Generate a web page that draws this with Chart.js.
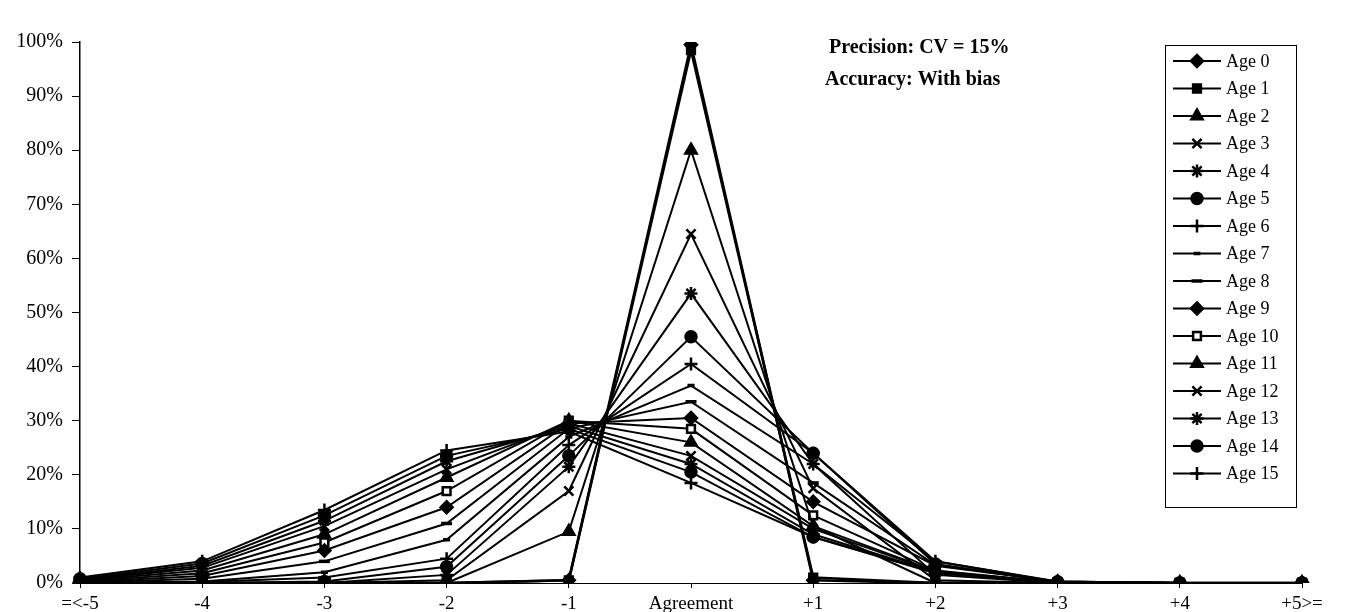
<!DOCTYPE html>
<html>
<head>
<meta charset="utf-8">
<script src="https://cdn.jsdelivr.net/npm/chart.js@4/dist/chart.umd.min.js"></script>
<style>
  html, body { margin: 0; padding: 0; background: #fff; }
  #wrap { position: relative; width: 1369px; height: 612px; }
</style>
</head>
<body>
<div id="wrap"><canvas id="c" width="1369" height="612"></canvas></div>
<script>
// ---- Data (percent of readings) ----
const categories = ['=<-5', '-4', '-3', '-2', '-1', 'Agreement', '+1', '+2', '+3', '+4', '+5>='];
const seriesNames = ['Age 0','Age 1','Age 2','Age 3','Age 4','Age 5','Age 6','Age 7',
                     'Age 8','Age 9','Age 10','Age 11','Age 12','Age 13','Age 14','Age 15'];
const age0  = [0,   0,   0,    0,    0.5,  99.5, 0.5,  0,   0,   0, 0];
const age1  = [0,   0,   0,    0,    0.5,  98.5, 1.0,  0,   0,   0, 0];
const age2  = [0,   0,   0,    0,    9.5,  80.0, 10.5, 0,   0,   0, 0];
const age3  = [0,   0,   0,    0.5,  17.0, 64.5, 17.5, 0.5, 0,   0, 0];
const age4  = [0,   0,   0,    1.5,  21.5, 53.5, 22.0, 1.5, 0,   0, 0];
const age5  = [0,   0,   0.3,  3.0,  23.5, 45.5, 24.0, 3.5, 0.2, 0, 0];
const age6  = [0,   0.2, 1.0,  4.5,  25.5, 40.5, 24.0, 4.0, 0.3, 0, 0];
const age7  = [0,   0.3, 2.0,  8.0,  27.0, 36.5, 22.0, 4.0, 0.2, 0, 0];
const age8  = [0.1, 0.8, 4.0,  11.0, 28.5, 33.5, 18.5, 3.3, 0.3, 0, 0];
const age9  = [0.2, 1.3, 6.0,  14.0, 29.5, 30.5, 15.0, 3.2, 0.3, 0, 0];
const age10 = [0.3, 1.8, 7.5,  17.0, 30.0, 28.5, 12.5, 2.3, 0.1, 0, 0];
const age11 = [0.4, 2.3, 9.0,  19.5, 30.0, 26.0, 10.5, 2.2, 0.1, 0, 0];
const age12 = [0.5, 2.8, 10.5, 21.0, 29.5, 23.5, 10.0, 2.1, 0.1, 0, 0];
const age13 = [0.6, 3.2, 11.5, 22.5, 29.0, 22.0, 9.0,  2.0, 0.2, 0, 0];
const age14 = [0.8, 3.6, 12.5, 23.5, 28.5, 20.5, 8.5,  1.9, 0.2, 0, 0];
const age15 = [1.0, 4.0, 13.5, 24.5, 28.0, 18.5, 8.5,  1.8, 0.2, 0, 0];
const yTicks = [0, 10, 20, 30, 40, 50, 60, 70, 80, 90, 100];
const titleLines = ['Precision: CV = 15%', 'Accuracy: With bias'];

const allSeries = [age0, age1, age2, age3, age4, age5, age6, age7,
                   age8, age9, age10, age11, age12, age13, age14, age15];

// marker styles per series
const markers = [
  {s:'rectRot', r:6, fill:true},
  {s:'rect', r:5.5, fill:true},
  {s:'triangle', r:6.5, fill:true},
  {s:'crossRot', r:6.5, fill:false},
  {s:'star', r:6.5, fill:false},
  {s:'circle', r:5.5, fill:true},
  {s:'cross', r:6.5, fill:false},
  {s:'line', r:3.5, fill:false},
  {s:'line', r:5.5, fill:false},
  {s:'rectRot', r:6, fill:true},
  {s:'rect', r:5.5, fill:false},
  {s:'triangle', r:6.5, fill:true},
  {s:'crossRot', r:6.5, fill:false},
  {s:'star', r:6.5, fill:false},
  {s:'circle', r:5.5, fill:true},
  {s:'cross', r:6.5, fill:false}
];

const FONT = '"Liberation Serif", "Times New Roman", serif';

const datasets = allSeries.map((d, i) => ({
  label: seriesNames[i],
  data: d,
  borderColor: '#000',
  backgroundColor: markers[i].fill ? '#000' : '#fff',
  borderWidth: (i < 2) ? 2.6 : 2,
  pointStyle: markers[i].s,
  pointRadius: markers[i].r,
  pointBorderWidth: (markers[i].s === 'line') ? 3.5 : 2.5,
  pointBorderColor: '#000',
  pointBackgroundColor: markers[i].fill ? '#000' : '#fff',
  tension: 0,
  fill: false
}));

const overlay = {
  id: 'overlay',
  afterDraw(chart) {
    const ctx = chart.ctx;
    ctx.save();
    // Title text
    ctx.fillStyle = '#000';
    ctx.font = 'bold 20px ' + FONT;
    ctx.textBaseline = 'middle';
    ctx.textAlign = 'left';
    ctx.fillText(titleLines[0], 829, 48);
    ctx.fillText(titleLines[1], 825, 80);
    // Legend box
    const bx = 1165, by = 45, bw = 131, bh = 462;
    ctx.fillStyle = '#fff';
    ctx.fillRect(bx, by, bw, bh);
    ctx.strokeStyle = '#000';
    ctx.lineWidth = 1;
    ctx.strokeRect(bx + 0.5, by + 0.5, bw, bh);
    ctx.font = '18px ' + FONT;
    for (let i = 0; i < seriesNames.length; i++) {
      const y = 61 + i * 27.5;
      ctx.strokeStyle = '#000';
      ctx.lineWidth = 2.2;
      ctx.beginPath();
      ctx.moveTo(1173, y);
      ctx.lineTo(1221, y);
      ctx.stroke();
      const m = markers[i];
      ctx.fillStyle = m.fill ? '#000' : '#fff';
      ctx.lineWidth = (m.s === 'line') ? 3.5 : 2.5;
      Chart.helpers.drawPoint(ctx, {pointStyle: m.s, radius: m.r, rotation: 0, borderWidth: ctx.lineWidth}, 1197, y);
      ctx.fillStyle = '#000';
      ctx.textAlign = 'left';
      ctx.fillText(seriesNames[i], 1226, y + 1);
    }
    ctx.restore();
  }
};

new Chart(document.getElementById('c'), {
  type: 'line',
  data: { labels: categories, datasets },
  options: {
    responsive: false,
    animation: false,
    devicePixelRatio: 1,
    layout: { padding: { left: 0, right: 67, top: 42, bottom: 0 } },
    plugins: { legend: { display: false }, tooltip: { enabled: false }, title: { display: false } },
    scales: {
      x: {
        type: 'category',
        offset: false,
        afterFit(s) { s.height = 29; },
        border: { display: true, color: '#000', width: 1 },
        grid: { display: true, drawOnChartArea: false, drawTicks: true, tickLength: 5, color: '#000' },
        ticks: { color: '#000', font: { family: FONT, size: 19 }, autoSkip: false, maxRotation: 0, padding: 5 }
      },
      y: {
        min: 0, max: 100,
        afterFit(s) { s.width = 80; },
        afterBuildTicks(s) { s.ticks = yTicks.map(v => ({ value: v })); },
        border: { display: true, color: '#000', width: 1.5 },
        grid: { display: true, drawOnChartArea: false, drawTicks: true, tickLength: 8, color: '#000' },
        ticks: { color: '#000', font: { family: FONT, size: 20 }, padding: 9, callback: v => v + '%' }
      }
    }
  },
  plugins: [overlay]
});
</script>
</body>
</html>
